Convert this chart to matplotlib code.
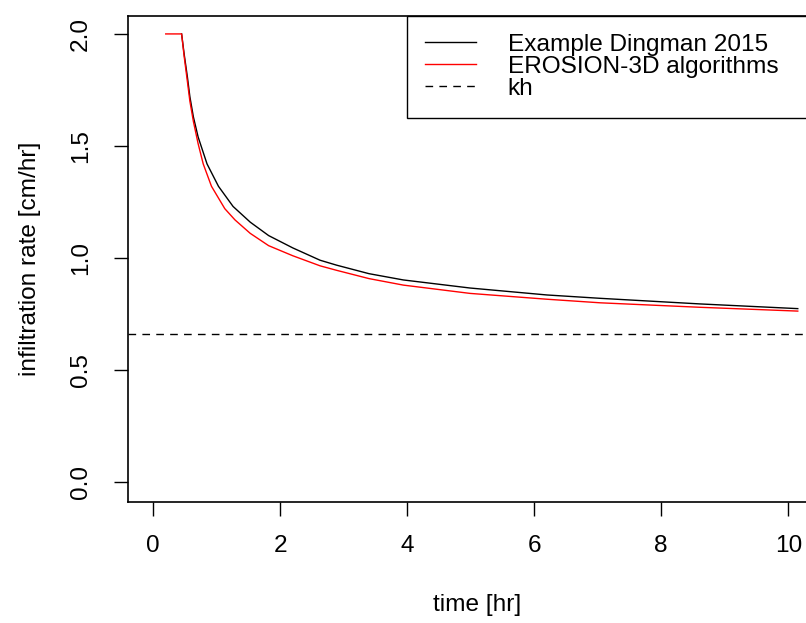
import numpy as np
import matplotlib
matplotlib.use("Agg")
import matplotlib.pyplot as plt

plt.rcParams['font.family'] = ['Liberation Sans', 'DejaVu Sans']

# infiltration rate curves
dingman_t = [0.45, 0.49, 0.54, 0.58, 0.635, 0.71, 0.85, 1.03, 1.26, 1.53, 1.82,
             2.2, 2.63, 2.89, 3.4, 3.94, 4.99, 6.2, 7.04, 8.61, 10.15]
dingman_f = [2.0, 1.91, 1.81, 1.72, 1.63, 1.54, 1.42, 1.32, 1.23, 1.16, 1.10,
             1.045, 0.99, 0.968, 0.93, 0.902, 0.866, 0.835, 0.82, 0.795, 0.774]

e3d_t = [0.2, 0.45, 0.49, 0.54, 0.58, 0.635, 0.71, 0.79, 0.92, 1.13, 1.29, 1.53,
         1.82, 2.2, 2.63, 2.89, 3.4, 3.94, 4.99, 6.2, 7.04, 8.61, 10.15]
e3d_f = [2.0, 2.0, 1.90, 1.79, 1.70, 1.61, 1.51, 1.42, 1.32, 1.22, 1.17, 1.11,
         1.055, 1.01, 0.965, 0.945, 0.908, 0.879, 0.842, 0.816, 0.80, 0.78, 0.763]

kh = 0.659

x_ticks = [0, 2, 4, 6, 8, 10]
y_ticks = [0.0, 0.5, 1.0, 1.5, 2.0]

fs = 17.6

fig = plt.figure(figsize=(8.06, 6.23), dpi=100)
# axes box runs past the right edge of the picture, like the cropped reference
ax = fig.add_axes([128 / 806, 121 / 623, 699 / 806, 486 / 623])

ax.plot(dingman_t, dingman_f, color='black', lw=1.0, label='Example Dingman 2015')
ax.plot(e3d_t, e3d_f, color='#ff0000', lw=1.0, label='EROSION-3D algorithms')
ax.axhline(kh, color='black', lw=1.0, dashes=(5.5, 4.5), label='kh')

ax.set_xlim(-0.394, 10.61)
ax.set_ylim(-0.089, 2.08)
ax.set_xticks(x_ticks)
ax.set_xticklabels([str(v) for v in x_ticks])
ax.set_yticks(y_ticks)
ax.set_yticklabels(['%.1f' % v for v in y_ticks])

for s in ax.spines.values():
    s.set_linewidth(1.2)
ax.tick_params(direction='out', length=10, width=1.0, labelsize=fs)
ax.tick_params(axis='x', pad=14)
ax.tick_params(axis='y', pad=16)
for lab in ax.get_yticklabels():
    lab.set_rotation(90)
    lab.set_va('center')

ax.set_xlabel('time [hr]', fontsize=fs)
ax.set_ylabel('infiltration rate [cm/hr]', fontsize=fs)
ax.xaxis.set_label_coords(0.5, -0.189)
ax.yaxis.set_label_coords(-0.124, 0.5)

leg = ax.legend(loc='upper right', bbox_to_anchor=(0.399, 0.796, 0.601, 0.204),
                mode='expand', fancybox=False, edgecolor='black', framealpha=1,
                fontsize=fs, labelspacing=0.0, handlelength=2.1,
                handletextpad=1.3, borderpad=0.72, borderaxespad=0)
leg.get_frame().set_linewidth(1.0)

fig.savefig('out.png', dpi=100)
